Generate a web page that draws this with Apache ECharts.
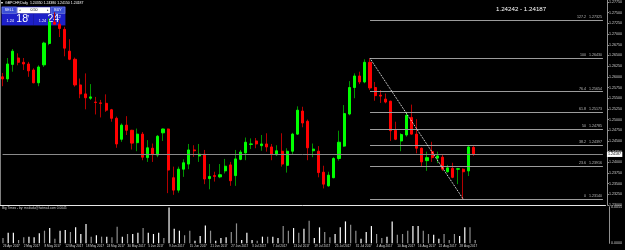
<!DOCTYPE html>
<html><head><meta charset="utf-8">
<script src="https://cdn.jsdelivr.net/npm/echarts@6/dist/echarts.min.js"></script>
<style>html,body{margin:0;padding:0;background:#000;}#c{width:625px;height:250px;}</style>
</head><body><div id="c"></div>
<script>
const symbol = 'GBPCHF,Daily';
const bid = 1.24187, ask = 1.24242;
const dates = ['26 Apr 2017','27 Apr 2017','28 Apr 2017',
'1 May 2017','2 May 2017','3 May 2017','4 May 2017','5 May 2017','8 May 2017','9 May 2017','10 May 2017','11 May 2017','12 May 2017','15 May 2017','16 May 2017','17 May 2017','18 May 2017','19 May 2017','22 May 2017','23 May 2017','24 May 2017','25 May 2017','26 May 2017','29 May 2017','30 May 2017','31 May 2017',
'1 Jun 2017','2 Jun 2017','5 Jun 2017','6 Jun 2017','7 Jun 2017','8 Jun 2017','9 Jun 2017','12 Jun 2017','13 Jun 2017','14 Jun 2017','15 Jun 2017','16 Jun 2017','19 Jun 2017','20 Jun 2017','21 Jun 2017','22 Jun 2017','23 Jun 2017','26 Jun 2017','27 Jun 2017','28 Jun 2017','29 Jun 2017','30 Jun 2017',
'3 Jul 2017','4 Jul 2017','5 Jul 2017','6 Jul 2017','7 Jul 2017','10 Jul 2017','11 Jul 2017','12 Jul 2017','13 Jul 2017','14 Jul 2017','17 Jul 2017','18 Jul 2017','19 Jul 2017','20 Jul 2017','21 Jul 2017','24 Jul 2017','25 Jul 2017','26 Jul 2017','27 Jul 2017','28 Jul 2017','31 Jul 2017',
'1 Aug 2017','2 Aug 2017','3 Aug 2017','4 Aug 2017','7 Aug 2017','8 Aug 2017','9 Aug 2017','10 Aug 2017','11 Aug 2017','14 Aug 2017','15 Aug 2017','16 Aug 2017','17 Aug 2017','18 Aug 2017','21 Aug 2017','22 Aug 2017','23 Aug 2017','24 Aug 2017','25 Aug 2017','28 Aug 2017','29 Aug 2017','30 Aug 2017','31 Aug 2017'];
const opens = [1.2600,1.2595,1.2629,1.2644,1.2634,1.2630,1.2616,1.2586,1.2628,1.2678,1.2728,1.2723,1.2711,1.2660,1.2641,1.2581,1.2560,1.2550,1.2541,1.2539,1.2538,1.2523,1.2503,1.2454,1.2487,1.2475,1.2446,1.2466,1.2411,1.2433,1.2417,1.2469,1.2478,1.2364,1.2335,1.2384,1.2396,1.2429,1.2415,1.2419,1.2362,1.2369,1.2366,1.2380,1.2394,1.2369,1.2407,1.2422,1.2442,1.2450,1.2439,1.2443,1.2436,1.2418,1.2426,1.2393,1.2426,1.2466,1.2520,1.2496,1.2427,1.2426,1.2377,1.2345,1.2364,1.2409,1.2438,1.2513,1.2575,1.2602,1.2588,1.2634,1.2575,1.2557,1.2548,1.2543,1.2475,1.2450,1.2464,1.2505,1.2466,1.2433,1.2404,1.2425,1.2410,1.2412,1.2378,1.2386,1.2384,1.2384,1.2380,1.2435];
const highs = [1.2609,1.2644,1.2665,1.2655,1.2644,1.2635,1.2620,1.2627,1.2682,1.2737,1.2751,1.2732,1.2717,1.2688,1.2645,1.2596,1.2608,1.2583,1.2553,1.2546,1.2559,1.2525,1.2507,1.2491,1.2508,1.2476,1.2479,1.2471,1.2452,1.2444,1.2464,1.2479,1.2479,1.2390,1.2390,1.2407,1.2443,1.2440,1.2443,1.2429,1.2396,1.2378,1.2396,1.2408,1.2401,1.2429,1.2429,1.2458,1.2456,1.2457,1.2464,1.2468,1.2443,1.2440,1.2468,1.2433,1.2469,1.2531,1.2530,1.2500,1.2444,1.2438,1.2392,1.2378,1.2412,1.2474,1.2534,1.2590,1.2608,1.2612,1.2641,1.2643,1.2588,1.2569,1.2561,1.2544,1.2495,1.2468,1.2518,1.2535,1.2501,1.2435,1.2425,1.2448,1.2425,1.2417,1.2394,1.2399,1.2387,1.2386,1.2438,1.2438];
const lows = [1.2578,1.2588,1.2612,1.2627,1.2616,1.2600,1.2585,1.2578,1.2623,1.2674,1.2722,1.2693,1.2648,1.2639,1.2577,1.2550,1.2524,1.2546,1.2512,1.2505,1.2518,1.2495,1.2434,1.2448,1.2464,1.2430,1.2426,1.2405,1.2401,1.2401,1.2412,1.2450,1.2328,1.2324,1.2329,1.2366,1.2384,1.2413,1.2401,1.2349,1.2337,1.2355,1.2363,1.2374,1.2345,1.2345,1.2405,1.2405,1.2431,1.2433,1.2427,1.2425,1.2405,1.2415,1.2390,1.2376,1.2419,1.2464,1.2482,1.2405,1.2412,1.2365,1.2339,1.2343,1.2363,1.2404,1.2436,1.2510,1.2550,1.2583,1.2585,1.2569,1.2544,1.2539,1.2538,1.2450,1.2452,1.2426,1.2460,1.2465,1.2421,1.2390,1.2380,1.2401,1.2398,1.2380,1.2376,1.2363,1.2349,1.2314,1.2368,1.2415];
const closes = [1.2595,1.2630,1.2660,1.2634,1.2630,1.2614,1.2586,1.2623,1.2679,1.2728,1.2723,1.2713,1.2667,1.2641,1.2581,1.2560,1.2551,1.2553,1.2540,1.2538,1.2522,1.2503,1.2443,1.2487,1.2475,1.2445,1.2466,1.2412,1.2434,1.2418,1.2461,1.2478,1.2382,1.2335,1.2384,1.2399,1.2429,1.2427,1.2419,1.2361,1.2367,1.2367,1.2371,1.2391,1.2357,1.2408,1.2424,1.2447,1.2443,1.2443,1.2443,1.2436,1.2419,1.2427,1.2396,1.2426,1.2466,1.2522,1.2492,1.2434,1.2431,1.2376,1.2349,1.2370,1.2409,1.2447,1.2514,1.2575,1.2602,1.2588,1.2634,1.2574,1.2556,1.2555,1.2541,1.2474,1.2454,1.2465,1.2510,1.2466,1.2433,1.2401,1.2411,1.2411,1.2415,1.2384,1.2387,1.2365,1.2385,1.2378,1.2436,1.24187];
// indicator values in pips (shown as price units on the axis)
const volumes = [8,16,16,5,9,10,9,15,19,23,7,19,20,17,24,14,29,10,12,10,10,9,25,10,14,14,16,23,16,14,16,8,54,22,19,12,19,4,11,27,19,4,8,9,17,30,5,16,5,4,10,10,10,8,26,19,23,16,22,34,8,24,17,9,14,24,33,28,19,7,17,26,14,8,10,33,13,14,19,26,26,19,14,13,7,14,5,14,11,24,24,5];
const volRising = [0,1,1,0,0,1,1,1,0,1,0,1,1,0,1,1,1,0,1,0,1,0,0,1,0,1,1,0,1,1,1,0,1,1,1,0,0,1,1,1,0,1,1,1,0,0,1,1,1,0,1,0,1,1,0,0,1,0,1,0,1,1,0,0,1,1,1,0,0,1,1,1,0,0,1,1,0,0,0,1,1,0,0,1,1,0,0,0,1,1,0,0];
const fibLevels = [127.2, 100, 76.4, 61.8, 50, 38.2, 23.6, 0];
const fibHighIdx = 71, fibLowIdx = 89;
const priceTickStep = 0.0025;
const volAxisMax = 55;

const N = dates.length;
const SHIFT = 25; // empty chart-shift space on the right, in bars
const axisCats = dates.concat(new Array(SHIFT).fill(''));
const XEND = axisCats.length - 1;
const fibHigh = highs[fibHighIdx], fibLow = lows[fibLowIdx];

const wickData = opens.map((o,i)=>[o, closes[i], lows[i], highs[i]]);
const bodyData = opens.map((o,i)=>[o, closes[i], Math.min(o,closes[i]), Math.max(o,closes[i])]);

const F = 'Liberation Sans, Arial, sans-serif';
const fibLines = fibLevels.map(l => {
  const p = fibLow + (fibHigh - fibLow) * l / 100;
  return [
    {coord:[fibHighIdx, p], lineStyle:{color:'#9c9c9c', width:1, type:'solid'},
     label:{show:true, position:'insideEndTop', distance:1, fontSize:3.6, color:'#bdbdbd', fontFamily:F,
            formatter: l + '   ' + p.toFixed(5)}},
    {coord:[XEND, p]}
  ];
});

const chart = echarts.init(document.getElementById('c'), null, {renderer:'canvas', width:625, height:250});
const last = N - 1;
chart.setOption({
  backgroundColor:'#000000',
  animation:false,
  grid:[
    {left:-1, top:0, width:610, height:205.1},
    {left:-1, top:206.8, width:610, height:36.5}
  ],
  xAxis:[
    {type:'category', data:axisCats, gridIndex:0, boundaryGap:true,
     axisLine:{show:true, lineStyle:{color:'#e6e6e6', width:1}}, axisTick:{show:false}, axisLabel:{show:false}, splitLine:{show:false}},
    {type:'category', data:axisCats, gridIndex:1, boundaryGap:true,
     axisLine:{show:false}, axisTick:{show:false}, splitLine:{show:false},
     axisLabel:{show:true, interval:3, align:'left', margin:1.5, fontSize:3.1, color:'#d8d8d8', fontFamily:F,
       formatter:(v)=> v ? v : ''}}
  ],
  yAxis:[
    {type:'value', gridIndex:0, position:'right', offset:2, min:1.2300, max:1.27791, interval:priceTickStep,
     axisLine:{show:true, lineStyle:{color:'#909090'}}, axisTick:{show:true, length:1.5, lineStyle:{color:'#909090'}},
     splitLine:{show:false}, axisLabel:{show:true, margin:1.5, fontSize:3.6, color:'#cfcfcf', fontFamily:F, showMaxLabel:false,
       formatter:(v)=>v.toFixed(5)}},
    {type:'value', gridIndex:1, position:'right', offset:2, min:0, max:volAxisMax, interval:volAxisMax,
     axisLine:{show:true, lineStyle:{color:'#909090'}}, axisTick:{show:false}, splitLine:{show:false},
     axisLabel:{show:true, margin:1.5, fontSize:3.6, color:'#cfcfcf', fontFamily:F, formatter:(v)=>(v/10000).toFixed(4)}}
  ],
  series:[
    {type:'candlestick', name:'wick', xAxisIndex:0, yAxisIndex:0, data:wickData, barWidth:1,
     itemStyle:{color:'#009400', color0:'#b40000', borderColor:'#009400', borderColor0:'#b40000', borderWidth:1},
     markLine:{silent:true, symbol:['none','none'], animation:false,
       data:[
         ...fibLines,
         [{coord:[fibHighIdx, fibHigh], lineStyle:{color:'#ffffff', width:1, type:[1,1]}, label:{show:false}},
          {coord:[fibLowIdx, fibLow]}],
         [{coord:[0, bid], lineStyle:{color:'#8a8a8a', width:1, type:'solid'},
           label:{show:true, position:'end', distance:4, formatter:bid.toFixed(5), backgroundColor:'#ffffff', color:'#000000',
                  fontSize:3.6, padding:[0.6,1.2], fontFamily:F}},
          {coord:[XEND, bid]}]
       ]}
    },
    {type:'candlestick', name:'body', xAxisIndex:0, yAxisIndex:0, data:bodyData, barWidth:2.6,
     itemStyle:{color:'#00ff00', color0:'#ff0000', borderColor:'#00ff00', borderColor0:'#ff0000', borderWidth:1}},
    {type:'bar', name:'vol', xAxisIndex:1, yAxisIndex:1, barWidth:1.2,
     data:volumes.map((v,i)=>({value:v, itemStyle:{color: volRising[i] ? '#ffffff' : '#8e8e8e'}}))}
  ],
  graphic:[
    {type:'line', shape:{x1:0.5,y1:0,x2:0.5,y2:205}, style:{stroke:'#808080', lineWidth:1}, z:50},
    {type:'text', left:1, top:0.6, style:{text:'▾', fill:'#ffffff', font:'3.5px '+F}, z:50},
    {type:'text', left:5, top:0.8, style:{text: symbol + '  ' + opens[last].toFixed(5) + ' ' + highs[last].toFixed(5) + ' ' + lows[last].toFixed(5) + ' ' + closes[last].toFixed(5), fill:'#ffffff', font:'3.5px '+F}, z:50},
    {type:'text', left:496, top:6, style:{text: ask.toFixed(5) + ' - ' + bid.toFixed(5), fill:'#ffffff', font:'6.2px '+F}, z:50},
    {type:'text', left:2, top:206.5, style:{text:'Big Times - by: mr.dudu@hotmail.com 0.0045', fill:'#d0d0d0', font:'3.2px '+F}, z:50},
    {type:'group', z:60, children:[
      {type:'rect', shape:{x:1.5,y:6.5,width:64,height:19}, style:{fill:'#1a1aa8'}},
      {type:'rect', shape:{x:2,y:7,width:14.5,height:6.5}, style:{fill:'#3b4fd6', stroke:'#8c9ae8', lineWidth:0.5}},
      {type:'text', style:{x:9.25,y:10.3,text:'SELL', fill:'#ffffff', font:'3.6px '+F, align:'center', verticalAlign:'middle'}},
      {type:'rect', shape:{x:17.3,y:7.3,width:32.8,height:6}, style:{fill:'#ffffff'}},
      {type:'text', style:{x:20,y:10.3,text:'◂', fill:'#404040', font:'3.4px '+F, align:'center', verticalAlign:'middle'}},
      {type:'text', style:{x:34,y:10.3,text:'0.50', fill:'#000000', font:'3.6px '+F, align:'center', verticalAlign:'middle'}},
      {type:'text', style:{x:47.5,y:10.3,text:'▸', fill:'#404040', font:'3.4px '+F, align:'center', verticalAlign:'middle'}},
      {type:'rect', shape:{x:51,y:7,width:14,height:6.5}, style:{fill:'#3b4fd6', stroke:'#8c9ae8', lineWidth:0.5}},
      {type:'text', style:{x:58,y:10.3,text:'BUY', fill:'#ffffff', font:'3.6px '+F, align:'center', verticalAlign:'middle'}},
      {type:'rect', shape:{x:2,y:14,width:31,height:11}, style:{fill:'#1d20c8'}},
      {type:'rect', shape:{x:34,y:14,width:31,height:11}, style:{fill:'#1d20c8'}},
      {type:'text', style:{x:6.5,y:22.6,text:bid.toFixed(5).slice(0,4), fill:'#ffffff', font:'3.8px '+F, verticalAlign:'bottom'}},
      {type:'text', style:{x:16.3,y:24.3,text:bid.toFixed(5).slice(4,6), fill:'#ffffff', font:'10.5px '+F, verticalAlign:'bottom'}},
      {type:'text', style:{x:27,y:15,text:bid.toFixed(5).slice(6), fill:'#ffffff', font:'4px '+F, verticalAlign:'top'}},
      {type:'text', style:{x:38.8,y:22.6,text:ask.toFixed(5).slice(0,4), fill:'#ffffff', font:'3.8px '+F, verticalAlign:'bottom'}},
      {type:'text', style:{x:47.4,y:24.3,text:ask.toFixed(5).slice(4,6), fill:'#ffffff', font:'10.5px '+F, verticalAlign:'bottom'}},
      {type:'text', style:{x:58.4,y:15,text:ask.toFixed(5).slice(6), fill:'#ffffff', font:'4px '+F, verticalAlign:'top'}}
    ]}
  ]
});
</script></body></html>
